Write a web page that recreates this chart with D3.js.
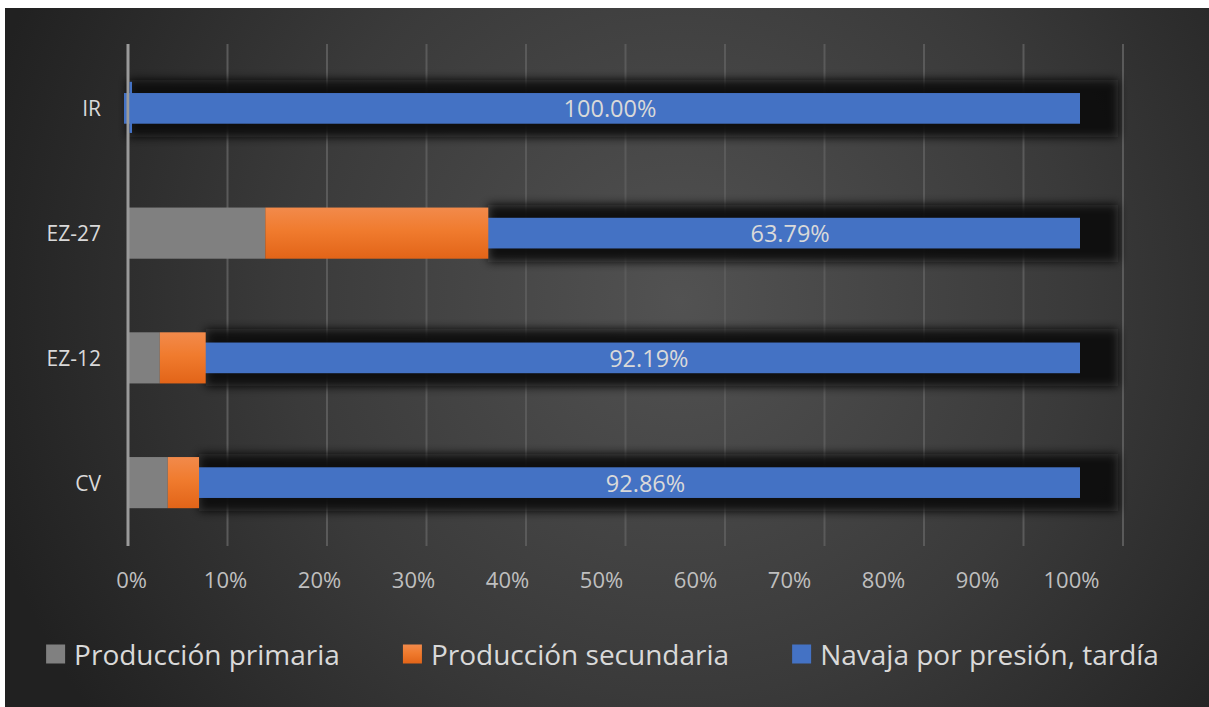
<!DOCTYPE html>
<html>
<head>
<meta charset="utf-8">
<script src="https://cdn.jsdelivr.net/npm/d3@7/dist/d3.min.js"></script>
<style>
  html, body { margin: 0; padding: 0; background: #ffffff; }
  svg { display: block; }
  text { font-family: "Open Sans", "Noto Sans", sans-serif; }
</style>
</head>
<body>
<svg id="chart" width="1209" height="707"></svg>
<script>
// Share of each production stage per assemblage (fractions of 1)
const categories = ["IR", "EZ-27", "EZ-12", "CV"];
const seriesNames = ["Producción primaria", "Producción secundaria", "Navaja por presión, tardía"];
const primaria   = [0.0000, 0.1380, 0.0320, 0.0400];
const secundaria = [0.0000, 0.2241, 0.0461, 0.0314];
const navaja     = [1.0000, 0.6379, 0.9219, 0.9286];
const tickValues = [0, 0.1, 0.2, 0.3, 0.4, 0.5, 0.6, 0.7, 0.8, 0.9, 1.0];

const W = 1209, H = 707;
const svg = d3.select("#chart");
const defs = svg.append("defs");

// Dark radial backdrop
const bg = defs.append("radialGradient").attr("id", "bg")
  .attr("gradientUnits", "userSpaceOnUse")
  .attr("cx", 680).attr("cy", 300).attr("r", 720);
bg.append("stop").attr("offset", "0%").attr("stop-color", "#525252");
bg.append("stop").attr("offset", "55%").attr("stop-color", "#3a3a3a");
bg.append("stop").attr("offset", "100%").attr("stop-color", "#212121");

// Orange face shading (light top to darker bottom)
const og = defs.append("linearGradient").attr("id", "orangeGrad")
  .attr("x1", 0).attr("y1", 0).attr("x2", 0).attr("y2", 1);
og.append("stop").attr("offset", "0%").attr("stop-color", "#f28a4b");
og.append("stop").attr("offset", "45%").attr("stop-color", "#f07b2e");
og.append("stop").attr("offset", "100%").attr("stop-color", "#e26418");

const blur = defs.append("filter").attr("id", "shadowBlur")
  .attr("x", "-10%").attr("y", "-60%").attr("width", "120%").attr("height", "220%");
blur.append("feGaussianBlur").attr("stdDeviation", 5);

const gridBlur = defs.append("filter").attr("id", "gridBlur");
gridBlur.append("feGaussianBlur").attr("stdDeviation", 0.6);

svg.append("rect").attr("x", 5).attr("y", 8).attr("width", W - 5).attr("height", H - 8)
  .attr("fill", "url(#bg)");

// Scales: back plane (grid, boxes), front plane (bar faces, tick labels)
const x = d3.scaleLinear().domain([0, 1]).range([128, 1123]);
const xFace = d3.scaleLinear().domain([0, 1]).range([124, 1080]);
const xLabel = d3.scaleLinear().domain([0, 1]).range([131, 1071]);
const y = d3.scaleBand().domain(categories).range([46, 545])
  .paddingInner(0.59).paddingOuter(0.295);

const rows = categories.map((c, i) => {
  const p = primaria[i], s = secundaria[i], n = navaja[i];
  return { cat: c, p, s, n, c0: 0, c1: p, c2: p + s, c3: p + s + n };
});

// Gridlines
const grid = svg.append("g").attr("filter", "url(#gridBlur)");
grid.selectAll("line").data(tickValues.slice(1)).join("line")
  .attr("x1", d => x(d)).attr("x2", d => x(d))
  .attr("y1", 44).attr("y2", 546)
  .attr("stroke", "#5a5a5a").attr("stroke-width", 2);

// Depth shadow behind the late pressure-blade boxes
svg.append("g").selectAll("rect").data(rows).join("rect")
  .attr("x", d => x(d.c2))
  .attr("y", d => y(d.cat) - 3)
  .attr("width", d => x(d.c3) - x(d.c2) - 5)
  .attr("height", y.bandwidth() + 6)
  .attr("fill", "#0e0e0e")
  .attr("opacity", 0.95)
  .attr("filter", "url(#shadowBlur)");

// Front faces of the blade segments
const faceInset = y.bandwidth() * 0.2;
svg.append("g").selectAll("rect").data(rows).join("rect")
  .attr("x", d => xFace(d.c2))
  .attr("y", d => y(d.cat) + faceInset)
  .attr("width", d => xFace(d.c3) - xFace(d.c2))
  .attr("height", y.bandwidth() - 2 * faceInset)
  .attr("fill", "#4472c4");

// Primary and secondary production segments
svg.append("g").selectAll("rect").data(rows.filter(d => d.p > 0)).join("rect")
  .attr("x", d => x(d.c0)).attr("y", d => y(d.cat))
  .attr("width", d => x(d.c1) - x(d.c0)).attr("height", y.bandwidth())
  .attr("fill", "#808080");

svg.append("g").selectAll("rect").data(rows.filter(d => d.s > 0)).join("rect")
  .attr("x", d => x(d.c1)).attr("y", d => y(d.cat))
  .attr("width", d => x(d.c2) - x(d.c1)).attr("height", y.bandwidth())
  .attr("fill", "url(#orangeGrad)");

// Vertical category axis line
svg.append("line")
  .attr("x1", x(0)).attr("x2", x(0)).attr("y1", 44).attr("y2", 546)
  .attr("stroke", "#9a9a9a").attr("stroke-width", 3);

// Side edge of a blade box that starts right at the axis
svg.append("g").selectAll("rect").data(rows.filter(d => d.c2 === 0)).join("rect")
  .attr("x", d => x(d.c2) + 1.5).attr("y", d => y(d.cat) - 1)
  .attr("width", 2.5).attr("height", y.bandwidth())
  .attr("fill", "#4472c4");

// Value labels on the blade segments
svg.append("g").selectAll("text").data(rows).join("text")
  .attr("x", d => (x(d.c2) + xFace(d.c3)) / 2 + 6)
  .attr("y", d => y(d.cat) + y.bandwidth() / 2)
  .attr("text-anchor", "middle").attr("dominant-baseline", "central")
  .attr("fill", "#d9d9d9").attr("font-size", 23.5)
  .text(d => d3.format(".2%")(d.n));

// Category labels
svg.append("g").selectAll("text").data(categories).join("text")
  .attr("x", 101)
  .attr("y", d => y(d) + y.bandwidth() / 2)
  .attr("text-anchor", "end").attr("dominant-baseline", "central")
  .attr("fill", "#d9d9d9").attr("font-size", 21)
  .text(d => d);

// Percentage axis labels
const xAxis = svg.append("g").attr("transform", "translate(0,569)")
  .call(d3.axisBottom(xLabel).tickValues(tickValues).tickFormat(d3.format(".0%")).tickSize(0));
xAxis.select(".domain").remove();
xAxis.selectAll("text")
  .attr("fill", "#bfbfbf").attr("font-size", 22)
  .attr("font-family", "\"Open Sans\", sans-serif").attr("dy", "0.71em");

// Legend
const legendColors = ["#808080", "url(#orangeGrad)", "#4472c4"];
const legend = svg.append("g");
const items = legend.selectAll("g").data(seriesNames).join("g");
items.append("rect").attr("width", 19).attr("height", 19).attr("y", -9.5)
  .attr("fill", (d, i) => legendColors[i]);
items.append("text").attr("x", 28).attr("dominant-baseline", "central")
  .attr("fill", "#d9d9d9").attr("font-size", 28).text(d => d);
let cursor = 0;
items.each(function () {
  const g = d3.select(this);
  g.attr("transform", `translate(${cursor},0)`);
  cursor += 28 + g.select("text").node().getComputedTextLength() + 63;
});
const legendWidth = cursor - 63;
legend.attr("transform", `translate(${(52 + 1153) / 2 - legendWidth / 2},654)`);
</script>
</body>
</html>
